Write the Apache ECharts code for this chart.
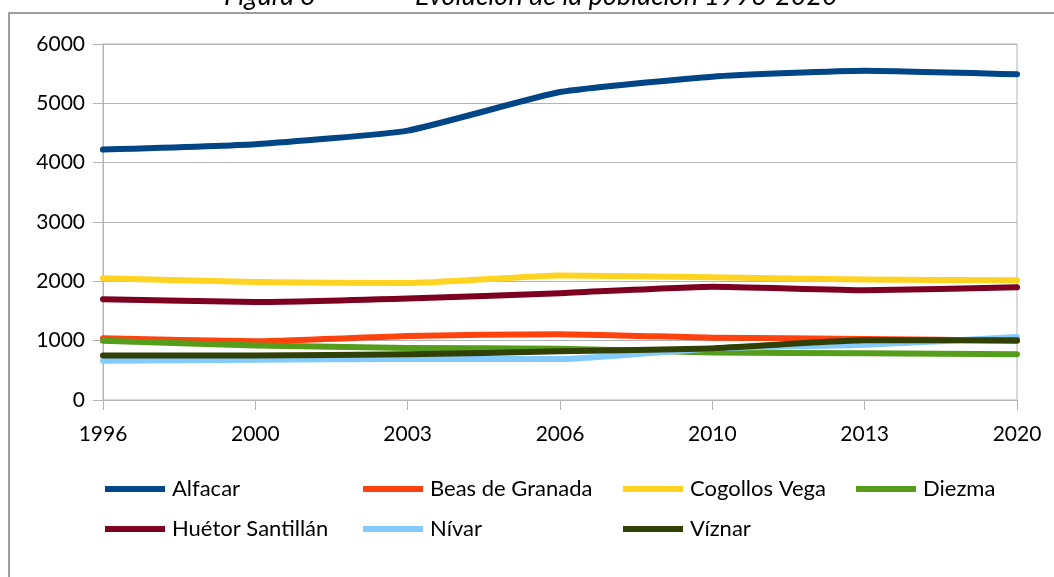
<!DOCTYPE html>
<html>
<head>
    <meta charset="utf-8">
    <title>Evolución de la población 1996-2020</title>
    <script src="https://cdn.jsdelivr.net/npm/echarts@6/dist/echarts.min.js"></script>
    <style>
        html, body { margin: 0; padding: 0; background: #fff; }
    </style>
</head>
<body>
    <div id="main" style="width:1054px;height:577px;"></div>
    <script type="text/javascript">
        // datos
        var years = ['1996', '2000', '2003', '2006', '2010', '2013', '2020'];
        var alfacar = [4220, 4310, 4540, 5190, 5450, 5550, 5490];
        var beas = [1040, 990, 1080, 1110, 1050, 1030, 995];
        var cogollos = [2050, 1990, 1970, 2100, 2070, 2030, 2020];
        var diezma = [1000, 920, 875, 865, 800, 790, 770];
        var huetor = [1700, 1650, 1710, 1800, 1910, 1850, 1900];
        var nivar = [660, 680, 690, 690, 870, 930, 1060];
        var viznar = [750, 750, 770, 820, 870, 1005, 1005];

        var names = ['Alfacar', 'Beas de Granada', 'Cogollos Vega', 'Diezma', 'Huétor Santillán', 'Nívar', 'Víznar'];
        var values = [alfacar, beas, cogollos, diezma, huetor, nivar, viznar];
        var colors = ['#004586', '#ff420e', '#ffd320', '#579d1c', '#7e0021', '#83caff', '#314004'];

        var font = 'Lato, "Open Sans", sans-serif';
        var myChart = echarts.init(document.getElementById('main'));

        var series = names.map(function (n, i) {
            return {
                name: n,
                type: 'line',
                data: values[i],
                smooth: 0.15,
                symbol: 'none',
                color: colors[i],
                lineStyle: { width: 6, color: colors[i], cap: 'round', join: 'round' },
                z: 2 + i
            };
        });

        // una leyenda por elemento, en columnas fijas
        var legPos = [
            [105, 478], [363, 478], [623, 478], [856, 478],
            [105, 518], [363, 518], [623, 518]
        ];
        var legends = names.map(function (n, i) {
            return {
                data: [n],
                left: legPos[i][0],
                top: legPos[i][1],
                icon: 'rect',
                itemWidth: 60,
                itemHeight: 6,
                itemGap: 0,
                padding: 0,
                selectedMode: false,
                textStyle: { fontFamily: font, fontSize: 22, color: '#000', padding: [0, 0, 0, 2] }
            };
        });

        var titleStyle = { fontFamily: font, fontStyle: 'italic', fontWeight: 'normal', fontSize: 27, color: '#000' };

        myChart.setOption({
            animation: false,
            backgroundColor: '#fff',
            title: [{
                text: 'Figura 3',
                left: 224,
                top: -17,
                padding: 0,
                textStyle: titleStyle
            }, {
                text: 'Evolución de la población 1996-2020',
                left: 415,
                top: -17,
                padding: 0,
                textStyle: titleStyle
            }],
            graphic: [{
                type: 'rect',
                shape: { x: 9, y: 13, width: 1100, height: 600 },
                style: { fill: 'none', stroke: '#7f7f7f', lineWidth: 1.5 },
                silent: true
            }],
            legend: legends,
            grid: {
                left: 103,
                right: 37,
                top: 44,
                bottom: 177,
                show: true,
                borderColor: '#b3b3b3',
                borderWidth: 1
            },
            xAxis: {
                type: 'category',
                boundaryGap: false,
                data: years,
                axisLine: { lineStyle: { color: '#b3b3b3', width: 1 } },
                axisTick: { show: true, length: 10, lineStyle: { color: '#b3b3b3' } },
                axisLabel: { fontFamily: font, fontSize: 21, color: '#000', margin: 24 },
                splitLine: { show: false }
            },
            yAxis: {
                type: 'value',
                min: 0,
                max: 6000,
                interval: 1000,
                axisLine: { show: true, lineStyle: { color: '#b3b3b3', width: 1 } },
                axisTick: { show: true, length: 10, lineStyle: { color: '#b3b3b3' } },
                axisLabel: {
                    fontFamily: font, fontSize: 21, color: '#000', margin: 18,
                    formatter: function (v) { return String(v); }
                },
                splitLine: { show: true, lineStyle: { color: '#b3b3b3', width: 1 } }
            },
            series: series
        });
    </script>
</body>
</html>
